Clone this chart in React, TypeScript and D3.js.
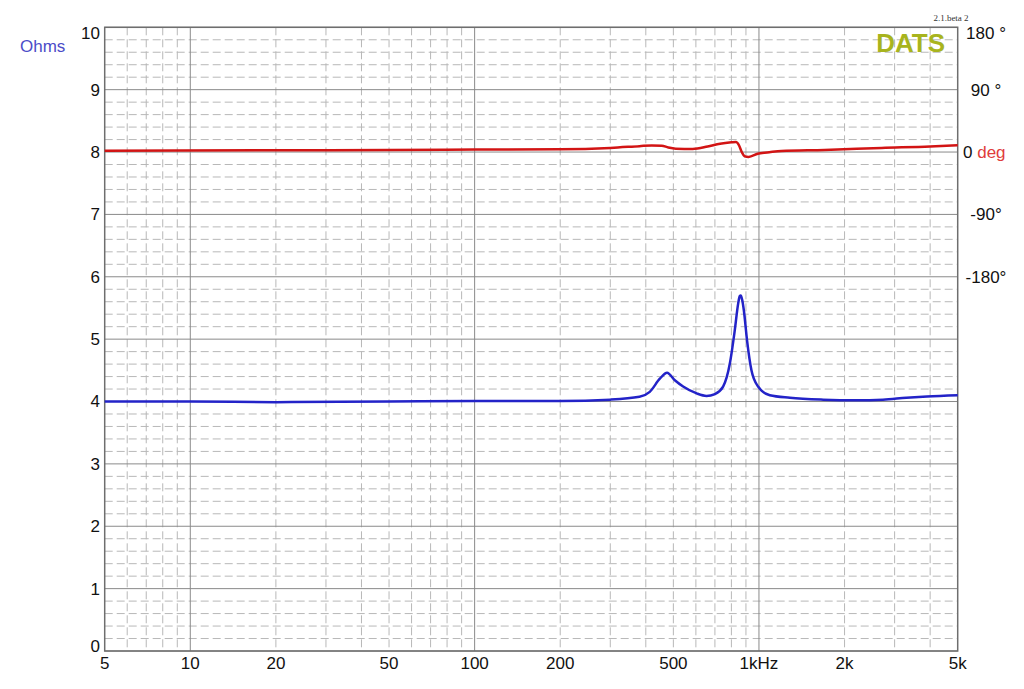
import React from "react";
import * as d3 from "d3";

const impFreq = [5, 10, 20, 50, 100, 200, 300, 380, 413, 449, 475, 506, 541, 604, 654, 700, 748, 790, 822, 845, 856, 863, 872, 885, 908, 941, 993, 1092, 1285, 1683, 2200, 2730, 3300, 3900, 5000];
const impOhm = [4.0, 4.0, 3.99, 4.0, 4.01, 4.01, 4.03, 4.075, 4.155, 4.37, 4.46, 4.34, 4.24, 4.13, 4.09, 4.12, 4.24, 4.61, 5.14, 5.57, 5.69, 5.7, 5.64, 5.46, 4.98, 4.5, 4.24, 4.1, 4.06, 4.03, 4.02, 4.03, 4.06, 4.08, 4.1];

const phFreq = [5, 20, 50, 100, 200, 300, 380, 420, 455, 480, 510, 585, 660, 730, 800, 830, 850, 870, 890, 920, 990, 1100, 1200, 1700, 2700, 4000, 5000];
const phDeg = [2, 2.5, 3, 3.5, 4, 6, 8.5, 9.5, 9.2, 6.5, 4.8, 4.5, 8, 12, 14, 14.5, 10, 0, -6, -7, -2.5, 0, 1.5, 3, 6, 8, 9.8];

const xTickVals = [5, 10, 20, 50, 100, 200, 500, 1000, 2000, 5000];
const xTickLabels = ["5", "10", "20", "50", "100", "200", "500", "1kHz", "2k", "5k"];
const yTicks = [0, 1, 2, 3, 4, 5, 6, 7, 8, 9, 10];
const phTicks = [180, 90, 0, -90, -180];
const phLabels = ["180 °", "90 °", "0", "-90°", "-180°"];

const W = 1024, H = 689;
const L = 104.7, R = 957.7, T = 27.3, B = 651;

export default function App() {
  const x = d3.scaleLog().domain([5, 5000]).range([L, R]);
  const y = d3.scaleLinear().domain([0, 10]).range([B, T]);
  const yPh = d3.scaleLinear().domain([-720, 180]).range([B, T]);

  const minorX: number[] = [];
  [1, 10, 100, 1000].forEach((dec) => {
    for (let m = 1; m <= 9; m++) {
      const v = dec * m;
      if (v > 5 && v < 5000 && m !== 1) minorX.push(v);
    }
  });
  const majorX = [10, 100, 1000];
  const minorY: number[] = [];
  for (let i = 0; i < 50; i++) if (i % 5 !== 0) minorY.push(i / 5);

  const impLine = d3.line<number>().x((_, i) => x(impFreq[i])).y((d) => y(d)).curve(d3.curveMonotoneX);
  const phLine = d3.line<number>().x((_, i) => x(phFreq[i])).y((d) => yPh(d)).curve(d3.curveMonotoneX);

  const font = "'Liberation Sans', Arial, Helvetica, sans-serif";
  const clampY = (v: number) => Math.max(33, Math.min(646, v));

  return (
    <div style={{ position: "absolute", left: 0, top: 0 }}>
      <svg width={W} height={H} style={{ display: "block", background: "#fff" }} fontFamily={font}>
        <rect x={0} y={0} width={W} height={H} fill="#fff" />
        {minorY.map((v) => (
          <line key={"my" + v} x1={L} x2={R} y1={y(v)} y2={y(v)} stroke="#b8b8b8" strokeWidth={1} strokeDasharray="8,4" />
        ))}
        {minorX.map((v) => (
          <line key={"mx" + v} x1={x(v)} x2={x(v)} y1={T} y2={B} stroke="#b8b8b8" strokeWidth={1} strokeDasharray="8,4" />
        ))}
        {yTicks.map((v) => (
          <line key={"gy" + v} x1={L} x2={R} y1={y(v)} y2={y(v)} stroke="#8a8a8a" strokeWidth={1} />
        ))}
        {majorX.map((v) => (
          <line key={"gx" + v} x1={x(v)} x2={x(v)} y1={T} y2={B} stroke="#8a8a8a" strokeWidth={1} />
        ))}
        <rect x={L} y={T} width={R - L} height={B - T} fill="none" stroke="#6e6e6e" strokeWidth={1.5} />

        <path d={phLine(phDeg) || ""} fill="none" stroke="#d21414" strokeWidth={2.5} strokeLinejoin="round" />
        <path d={impLine(impOhm) || ""} fill="none" stroke="#2323c8" strokeWidth={2.5} strokeLinejoin="round" />

        {yTicks.map((v) => (
          <text key={"ty" + v} x={100} y={clampY(y(v))} dy="0.35em" textAnchor="end" fontSize={17} fill="#111">{v}</text>
        ))}
        {xTickVals.map((v, i) => (
          <text key={"tx" + v} x={x(v)} y={663} dy="0.35em" textAnchor="middle" fontSize={17} fill="#111">{xTickLabels[i]}</text>
        ))}
        {phTicks.map((v, i) =>
          v === 0 ? (
            <text key={"tp" + v} x={963} y={yPh(v)} dy="0.35em" fontSize={17} fill="#111">
              0 <tspan fill="#e03c3c">deg</tspan>
            </text>
          ) : (
            <text key={"tp" + v} x={986} y={clampY(yPh(v))} dy="0.35em" textAnchor="middle" fontSize={17} fill="#111">{phLabels[i]}</text>
          )
        )}
        <text x={20} y={46} dy="0.35em" fontSize={17} fill="#4c4cc8">Ohms</text>
        <text x={945} y={43} dy="0.35em" textAnchor="end" fontSize={26} fontWeight="bold" fill="#a8b41e">DATS</text>
        <text x={951} y={21} textAnchor="middle" fontSize={9} fontFamily="'Liberation Serif', serif" fill="#333">2.1.beta 2</text>
      </svg>
    </div>
  );
}
